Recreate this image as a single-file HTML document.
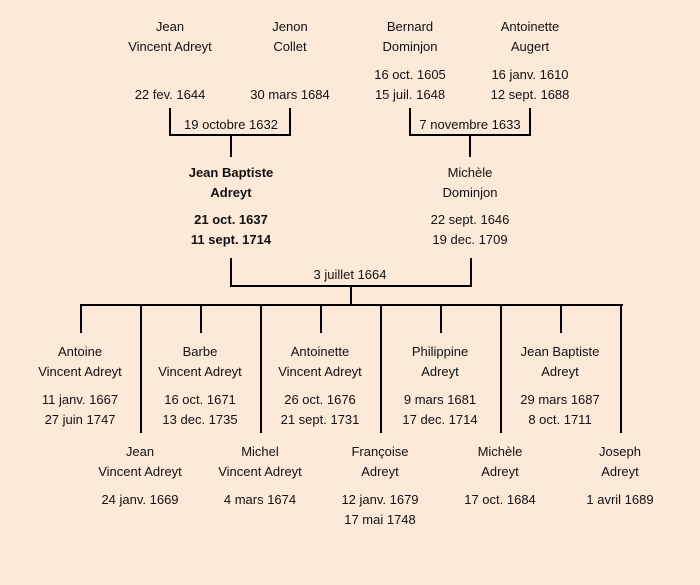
<!DOCTYPE html>
<html><head><meta charset="utf-8"><style>
html,body{margin:0;padding:0}
body{width:700px;height:585px;background:#fde9d7;position:relative;overflow:hidden;font-family:"Liberation Sans",sans-serif;font-size:13px;color:#111}
.t{position:absolute;width:160px;margin-left:-80px;text-align:center;line-height:20px;white-space:nowrap}
.b{font-weight:bold}
.l{position:absolute;background:#000}
</style></head><body>
<!-- lines -->
<div class="l" style="left:169px;top:108px;width:2px;height:28px"></div>
<div class="l" style="left:289px;top:108px;width:2px;height:28px"></div>
<div class="l" style="left:169px;top:134px;width:122px;height:2px"></div>
<div class="l" style="left:230px;top:134px;width:2px;height:23px"></div>
<div class="l" style="left:409px;top:108px;width:2px;height:28px"></div>
<div class="l" style="left:529px;top:108px;width:2px;height:28px"></div>
<div class="l" style="left:409px;top:134px;width:122px;height:2px"></div>
<div class="l" style="left:469px;top:134px;width:2px;height:23px"></div>
<div class="l" style="left:230px;top:258px;width:2px;height:29px"></div>
<div class="l" style="left:470px;top:258px;width:2px;height:29px"></div>
<div class="l" style="left:230px;top:285px;width:242px;height:2px"></div>
<div class="l" style="left:350px;top:285px;width:2px;height:20px"></div>
<div class="l" style="left:80px;top:304px;width:543px;height:2px"></div>
<div class="l" style="left:80px;top:304px;width:2px;height:29px"></div>
<div class="l" style="left:200px;top:304px;width:2px;height:29px"></div>
<div class="l" style="left:320px;top:304px;width:2px;height:29px"></div>
<div class="l" style="left:440px;top:304px;width:2px;height:29px"></div>
<div class="l" style="left:560px;top:304px;width:2px;height:29px"></div>
<div class="l" style="left:140px;top:304px;width:2px;height:129px"></div>
<div class="l" style="left:260px;top:304px;width:2px;height:129px"></div>
<div class="l" style="left:380px;top:304px;width:2px;height:129px"></div>
<div class="l" style="left:500px;top:304px;width:2px;height:129px"></div>
<div class="l" style="left:620px;top:304px;width:2px;height:129px"></div>

<!-- grandparents -->
<div class="t" style="left:170px;top:17px">Jean<br>Vincent Adreyt</div>
<div class="t" style="left:170px;top:85px">22 fev. 1644</div>
<div class="t" style="left:290px;top:17px">Jenon<br>Collet</div>
<div class="t" style="left:290px;top:85px">30 mars 1684</div>
<div class="t" style="left:410px;top:17px">Bernard<br>Dominjon</div>
<div class="t" style="left:410px;top:65px">16 oct. 1605<br>15 juil. 1648</div>
<div class="t" style="left:530px;top:17px">Antoinette<br>Augert</div>
<div class="t" style="left:530px;top:65px">16 janv. 1610<br>12 sept. 1688</div>
<div class="t" style="left:231px;top:115px">19 octobre 1632</div>
<div class="t" style="left:470px;top:115px">7 novembre 1633</div>

<!-- parents -->
<div class="t b" style="left:231px;top:163px">Jean Baptiste<br>Adreyt</div>
<div class="t b" style="left:231px;top:210px">21 oct. 1637<br>11 sept. 1714</div>
<div class="t" style="left:470px;top:163px">Michèle<br>Dominjon</div>
<div class="t" style="left:470px;top:210px">22 sept. 1646<br>19 dec. 1709</div>
<div class="t" style="left:350px;top:265px">3 juillet 1664</div>

<!-- children row 1 -->
<div class="t" style="left:80px;top:342px">Antoine<br>Vincent Adreyt</div>
<div class="t" style="left:80px;top:390px">11 janv. 1667<br>27 juin 1747</div>
<div class="t" style="left:200px;top:342px">Barbe<br>Vincent Adreyt</div>
<div class="t" style="left:200px;top:390px">16 oct. 1671<br>13 dec. 1735</div>
<div class="t" style="left:320px;top:342px">Antoinette<br>Vincent Adreyt</div>
<div class="t" style="left:320px;top:390px">26 oct. 1676<br>21 sept. 1731</div>
<div class="t" style="left:440px;top:342px">Philippine<br>Adreyt</div>
<div class="t" style="left:440px;top:390px">9 mars 1681<br>17 dec. 1714</div>
<div class="t" style="left:560px;top:342px">Jean Baptiste<br>Adreyt</div>
<div class="t" style="left:560px;top:390px">29 mars 1687<br>8 oct. 1711</div>

<!-- children row 2 -->
<div class="t" style="left:140px;top:442px">Jean<br>Vincent Adreyt</div>
<div class="t" style="left:140px;top:490px">24 janv. 1669</div>
<div class="t" style="left:260px;top:442px">Michel<br>Vincent Adreyt</div>
<div class="t" style="left:260px;top:490px">4 mars 1674</div>
<div class="t" style="left:380px;top:442px">Françoise<br>Adreyt</div>
<div class="t" style="left:380px;top:490px">12 janv. 1679<br>17 mai 1748</div>
<div class="t" style="left:500px;top:442px">Michèle<br>Adreyt</div>
<div class="t" style="left:500px;top:490px">17 oct. 1684</div>
<div class="t" style="left:620px;top:442px">Joseph<br>Adreyt</div>
<div class="t" style="left:620px;top:490px">1 avril 1689</div>
</body></html>
